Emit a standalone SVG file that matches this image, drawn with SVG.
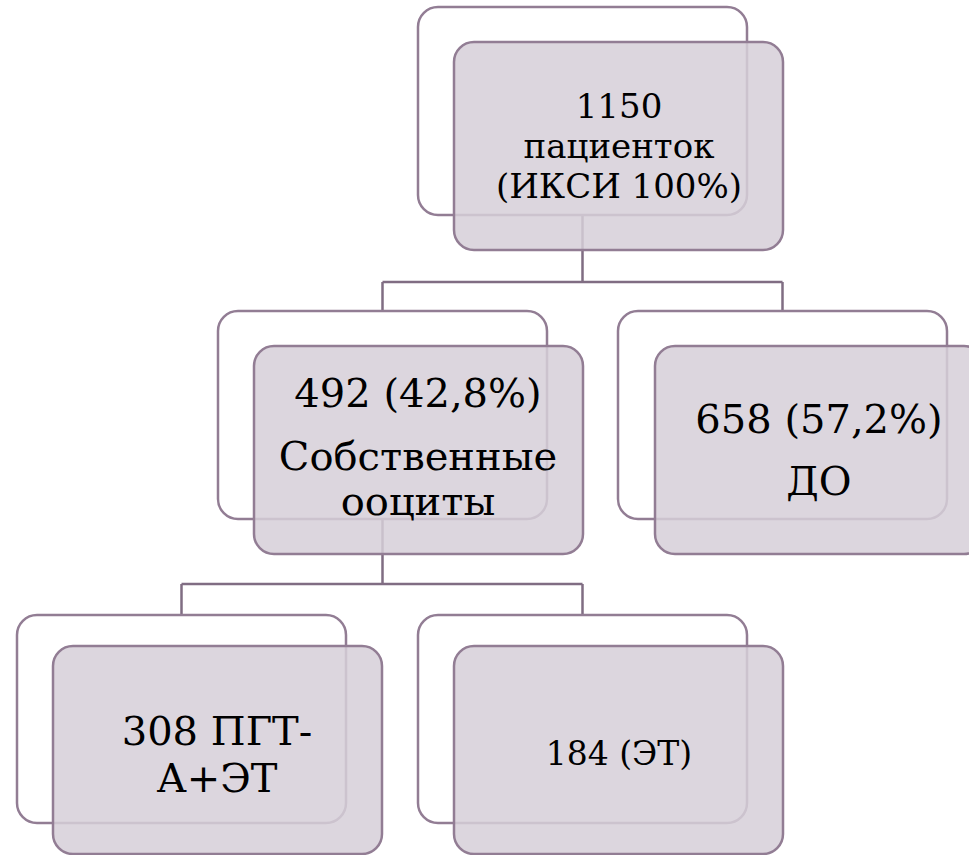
<svg xmlns="http://www.w3.org/2000/svg" width="969" height="855" viewBox="0 0 969 855">
<style>
.back{fill:#ffffff;stroke:#927d94;stroke-width:2.5}
.front{fill:#d6cfd8;fill-opacity:0.85;stroke:#927d94;stroke-width:2.5}
.conn{fill:none;stroke:#806d83;stroke-width:2.5}
text{font-family:"DejaVu Serif","Liberation Serif",serif;fill:#000;text-anchor:middle}
</style>
<rect width="969" height="855" fill="#ffffff"/>
<g id="connectors">
<path class="conn" d="M582.5 215 V282 M382.5 282 H782.5 M382.5 282 V311 M782.5 282 V311"/>
<path class="conn" d="M382.5 518 V584 M181.5 584 H582.5 M181.5 584 V615 M582.5 584 V615"/>
</g>
<g id="node-root">
<rect class="back" x="418" y="7" width="329" height="208" rx="20"/>
<rect class="front" x="454" y="42" width="329" height="208" rx="20"/>
<text font-size="34"><tspan x="619" y="118">1150</tspan><tspan x="619" y="158">пациенток</tspan><tspan x="619" y="198">(ИКСИ 100%)</tspan></text>
</g>
<g id="node-own">
<rect class="back" x="218" y="311" width="329" height="208" rx="20"/>
<rect class="front" x="254" y="346" width="329" height="208" rx="20"/>
<text font-size="40"><tspan x="418" y="407">492 (42,8%)</tspan><tspan x="418" y="470">Собственные</tspan><tspan x="418" y="515">ооциты</tspan></text>
</g>
<g id="node-donor">
<rect class="back" x="618" y="311" width="329" height="208" rx="20"/>
<rect class="front" x="655" y="346" width="329" height="208" rx="20"/>
<text font-size="40"><tspan x="819" y="433">658 (57,2%)</tspan><tspan x="819" y="495">ДО</tspan></text>
</g>
<g id="node-pgt">
<rect class="back" x="17" y="615" width="329" height="208" rx="20"/>
<rect class="front" x="53" y="646" width="329" height="208" rx="20"/>
<text font-size="40"><tspan x="217" y="745">308 ПГТ-</tspan><tspan x="217" y="792">А+ЭТ</tspan></text>
</g>
<g id="node-et">
<rect class="back" x="418" y="615" width="329" height="208" rx="20"/>
<rect class="front" x="454" y="646" width="329" height="208" rx="20"/>
<text font-size="33"><tspan x="619" y="765">184 (ЭТ)</tspan></text>
</g>
</svg>
